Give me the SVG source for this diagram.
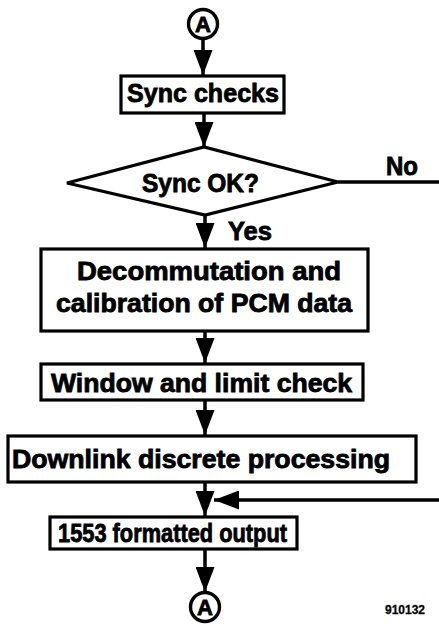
<svg xmlns="http://www.w3.org/2000/svg" width="439" height="627" viewBox="0 0 439 627">
<defs>
<marker id="ah" viewBox="0 0 25 19" refX="25" refY="9.5" markerWidth="25" markerHeight="19" markerUnits="userSpaceOnUse" orient="auto">
<path d="M0,0 L25,9.5 L0,19 z" fill="#000"/>
</marker>
<style>
.box{fill:#fff;stroke:#000;stroke-width:3.2}
.t{font-family:"Liberation Sans",Arial,Helvetica,sans-serif;font-weight:bold;font-size:25px;fill:#000;stroke:#000;stroke-width:0.8}
.c{fill:#fff;stroke:#000;stroke-width:3.4}
.a{font-size:22px}
.ln{stroke:#000;stroke-width:3.5;fill:none}
.ar{stroke:#000;stroke-width:3.5;fill:none;marker-end:url(#ah)}
</style>
</defs>
<rect width="439" height="627" fill="#fff"/>
<g id="connectors">
<line class="ar" x1="203" y1="38" x2="203" y2="75"/>
<line class="ar" x1="204" y1="113" x2="204" y2="147"/>
<line class="ar" x1="205" y1="215" x2="205" y2="248"/>
<line class="ar" x1="205" y1="331" x2="205" y2="363"/>
<line class="ar" x1="205" y1="400" x2="205" y2="435"/>
<line class="ar" x1="205" y1="482" x2="205" y2="516"/>
<line class="ar" x1="205" y1="549" x2="205" y2="592"/>
<line class="ln" x1="338" y1="182" x2="439" y2="182"/>
<line class="ar" x1="439" y1="500" x2="214" y2="500"/>
<text class="t" x="386" y="175" textLength="32" lengthAdjust="spacingAndGlyphs">No</text>
<text class="t" x="228" y="240" textLength="44" lengthAdjust="spacingAndGlyphs">Yes</text>
</g>
<g id="startA">
<circle class="c" cx="203" cy="24" r="14.5"/>
<text class="t a" x="203" y="32" text-anchor="middle">A</text>
</g>
<g id="syncChecks">
<rect class="box" x="121" y="76" width="163" height="37"/>
<text class="t" x="127" y="102" textLength="152" lengthAdjust="spacingAndGlyphs">Sync checks</text>
</g>
<g id="syncOK">
<polygon class="box" points="67,183 204,147 338,182 205,215" stroke-width="3.5"/>
<text class="t" x="142" y="192" textLength="117" lengthAdjust="spacingAndGlyphs">Sync OK?</text>
</g>
<g id="decomm">
<rect class="box" x="41" y="249" width="327" height="82"/>
<text class="t" x="77" y="280" textLength="264" lengthAdjust="spacingAndGlyphs">Decommutation and</text>
<text class="t" x="56" y="312" textLength="296" lengthAdjust="spacingAndGlyphs">calibration of PCM data</text>
</g>
<g id="window">
<rect class="box" x="41" y="364" width="322" height="36"/>
<text class="t" x="51" y="392" textLength="301" lengthAdjust="spacingAndGlyphs">Window and limit check</text>
</g>
<g id="downlink">
<rect class="box" x="8" y="436" width="408" height="46"/>
<text class="t" x="12" y="468" textLength="378" lengthAdjust="spacingAndGlyphs">Downlink discrete processing</text>
</g>
<g id="output1553">
<rect class="box" x="50" y="517" width="247" height="32"/>
<text class="t" x="58" y="542" textLength="229" lengthAdjust="spacingAndGlyphs">1553 formatted output</text>
</g>
<g id="endA">
<circle class="c" cx="205" cy="607" r="14.5"/>
<text class="t a" x="205" y="615" text-anchor="middle">A</text>
</g>
<text class="t" x="385" y="614" textLength="40" lengthAdjust="spacingAndGlyphs" style="font-size:13px;stroke-width:0.3">910132</text>
</svg>
